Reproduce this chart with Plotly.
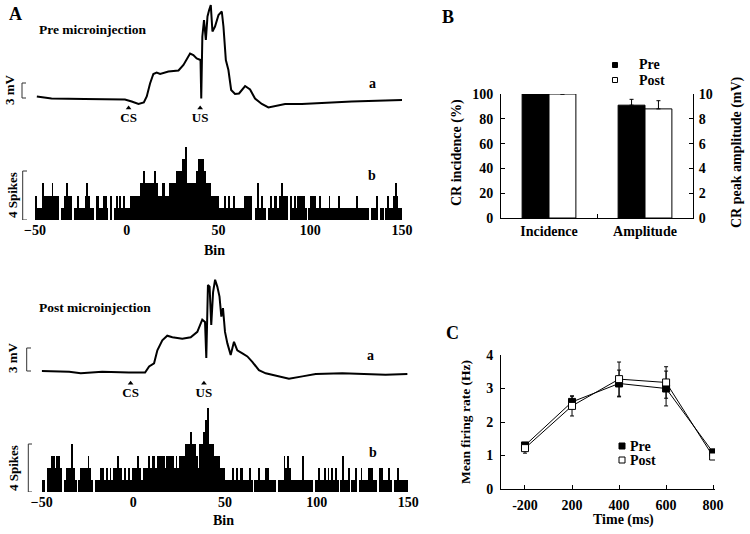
import plotly.graph_objects as go

W, H = 750, 534
FONT = "Liberation Serif"

# ---------------- data ----------------
hist_bins = list(range(-50, 150))
hist_ticks = [-50, 0, 50, 100, 150]

pre_spike_counts = [
    2, 1, 1, 1, 3, 2, 2, 2, 2, 3,
    2, 2, 2, 0, 1, 1, 2, 3, 2, 2,
    0, 1, 1, 2, 1, 1, 1, 2, 3, 2,
    1, 1, 0, 2, 2, 1, 1, 2, 2, 1,
    0, 2, 0, 1, 2, 1, 2, 1, 2, 1,
    1, 1, 2, 2, 2, 2, 2, 3, 3, 4,
    3, 3, 3, 3, 3, 4, 3, 2, 2, 3,
    3, 2, 2, 3, 3, 3, 3, 4, 4, 4,
    5, 5, 6, 3, 3, 3, 3, 3, 4, 5,
    5, 5, 4, 3, 3, 3, 2, 2, 2, 2,
    1, 1, 1, 2, 1, 2, 1, 1, 2, 1,
    1, 1, 1, 1, 2, 2, 2, 2, 0, 0,
    1, 3, 1, 2, 1, 1, 0, 1, 2, 1,
    2, 2, 1, 2, 3, 2, 2, 2, 0, 2,
    1, 2, 1, 2, 2, 2, 2, 1, 0, 1,
    2, 2, 2, 1, 1, 2, 1, 1, 1, 1,
    2, 1, 1, 1, 1, 2, 1, 1, 1, 1,
    1, 1, 1, 1, 1, 2, 1, 1, 1, 1,
    1, 1, 0, 1, 1, 1, 2, 0, 1, 1,
    0, 1, 2, 1, 1, 2, 3, 2, 1, 1,
]

post_spike_counts = [
    1, 1, 0, 2, 2, 3, 3, 2, 3, 3,
    2, 0, 1, 2, 2, 2, 4, 2, 1, 0,
    1, 2, 2, 2, 2, 3, 2, 1, 0, 1,
    1, 1, 2, 2, 1, 2, 1, 2, 1, 2,
    2, 3, 2, 2, 1, 2, 1, 2, 1, 2,
    2, 2, 3, 2, 1, 2, 2, 2, 3, 2,
    3, 3, 2, 3, 3, 3, 3, 2, 3, 3,
    3, 3, 2, 3, 2, 3, 3, 3, 4, 4,
    4, 5, 4, 4, 3, 2, 4, 4, 5, 6,
    7, 4, 4, 4, 3, 3, 3, 2, 2, 2,
    1, 1, 1, 1, 2, 1, 2, 1, 2, 2,
    1, 1, 1, 2, 1, 0, 1, 1, 2, 1,
    1, 1, 2, 2, 1, 1, 1, 1, 0, 1,
    1, 1, 3, 2, 3, 2, 1, 1, 1, 1,
    1, 1, 3, 1, 1, 1, 1, 1, 0, 1,
    1, 2, 1, 1, 2, 1, 2, 1, 2, 1,
    2, 1, 0, 1, 3, 1, 1, 2, 0, 1,
    1, 2, 0, 1, 2, 1, 1, 1, 2, 2,
    2, 1, 1, 0, 2, 2, 1, 1, 1, 2,
    1, 0, 1, 1, 2, 1, 1, 1, 1, 1,
]

pre_trace_bin = [-49, -41, -23, -1, 2.7, 6.4, 9.3, 10.9, 12.7, 14.5, 16.3, 18.2,
                 22.7, 26.3, 28.2, 30.9, 34.5, 36.3, 38.1, 40.2, 40.6, 41.2, 42.1,
                 43.1, 44.0, 44.9, 45.8, 46.7, 48.1, 50.0, 51.8, 52.7, 54.0, 55.4,
                 56.9, 59.0, 61.2, 64.5, 67.2, 69.9, 73.6, 77.2, 80.8, 86.3, 95.4,
                 108, 122.6, 140.8, 150]
pre_trace_mv = [0.3, -0.1, -0.2, -0.3, -0.7, -1.2, -0.9, 0.3, 2.9, 4.8, 5.1, 4.8,
                5.3, 5.5, 5.5, 6.6, 8.9, 8.6, 7.9, 7.6, -0.1, 12.3, 15.6,
                11.6, 16.3, 17.6, 18.6, 13.3, 14.3, 16.6, 17.3, 14.3, 7.6, 5.6,
                1.6, 0.8, 0.9, 2.4, 1.7, -0.1, -1.2, -1.9, -1.6, -1.2, -1.2,
                -0.9, -0.7, -0.5, -0.4]

post_trace_bin = [-50, -35, -28.7, -17, -2.4, 6.4, 8.6, 11.3, 13.1, 15.8, 18.5, 21.3,
                  26.7, 31.3, 34.9, 37.6, 39.1, 39.8, 40.7, 41.6, 42.5, 43.5, 44.6,
                  45.8, 47.0, 48.0, 48.9, 50.0, 51.3, 53.1, 54.9, 56.7, 59.5, 62.2,
                  64.9, 68.5, 72.2, 77.6, 84.9, 92.2, 99.5, 114, 128.6, 137.6, 149.5]
post_trace_mv = [0, -0.1, -0.3, -0.1, -0.2, -0.2, 0.6, 1.0, 2.7, 4.0, 4.6, 4.4,
                 4.2, 4.4, 5.1, 6.7, 6.4, 1.7, 11.2, 11.0, 6.0, 10.3, 11.9,
                 11.0, 9.7, 7.1, 8.2, 5.1, 3.6, 2.1, 3.8, 2.7, 2.3, 1.9,
                 1.2, 0.1, -0.3, -0.6, -1.0, -0.7, -0.4, -0.3, -0.4, -0.5, -0.4]

event_labels = ["CS", "US"]
pre_event_bins = [1, 40]
post_event_bins = [-1.5, 38.5]

mv_scale = 3
spike_scale = 4

b_groups = ["Incidence", "Amplitude"]
b_pre = [100, 9.1]
b_post = [100, 8.8]
b_pre_err = [0, 0.47]
b_post_err = [0, 0.66]

c_times = ["-200", "200", "400", "600", "800"]
c_pre = [1.3, 2.6, 3.15, 3.0, 1.09]
c_pre_err = [0.08, 0.17, 0.4, 0.52, 0.1]
c_post = [1.22, 2.48, 3.28, 3.18, 0.97]
c_post_err = [0.15, 0.3, 0.51, 0.47, 0.08]

series_names = ["Pre", "Post"]
series_fills = ["black", "white"]


# ---------------- helpers ----------------
def xd(a, b):
    return [a / W, b / W]


def yd(top, bot):
    return [1 - bot / H, 1 - top / H]


def xp(x):
    return x / W


def yp(y):
    return 1 - y / H


def bfont(size=13):
    return dict(family=FONT, size=size, color="black", weight="bold")


def ann(text, x, y, size=13, angle=0, xanchor="center"):
    return dict(text=text, x=xp(x), y=yp(y), xref="paper", yref="paper",
                showarrow=False, xanchor=xanchor, yanchor="middle",
                textangle=angle, font=bfont(size), borderpad=0)


def bracket(x0, x1, yref, v0, v1):
    return dict(type="path", xref="paper", yref=yref,
                path=f"M {xp(x1)},{v1} L {xp(x0)},{v1} L {xp(x0)},{v0} L {xp(x1)},{v0}",
                line=dict(color="#333", width=1))


def key_square(cx, cy, half, fill):
    return dict(type="rect", xref="paper", yref="paper",
                x0=xp(cx - half), x1=xp(cx + half), y0=yp(cy + half), y1=yp(cy - half),
                fillcolor=fill, line=dict(color="black", width=1))


fig = go.Figure()

# ---------------- Panel A ----------------
hist_x = [b + 0.5 for b in hist_bins]

fig.add_trace(go.Scatter(x=pre_trace_bin, y=pre_trace_mv, mode="lines",
                         line=dict(color="black", width=2), xaxis="x", yaxis="y",
                         showlegend=False, hoverinfo="skip"))
fig.add_trace(go.Scatter(x=pre_event_bins, y=[-2.0] * len(pre_event_bins),
                         mode="markers+text", text=event_labels,
                         textposition="bottom center", textfont=bfont(13),
                         marker=dict(symbol="triangle-up", size=5, color="black"),
                         cliponaxis=False, xaxis="x", yaxis="y", showlegend=False))
fig.add_trace(go.Bar(x=hist_x, y=pre_spike_counts, width=1,
                     marker=dict(color="black", line=dict(width=0)),
                     xaxis="x2", yaxis="y2", showlegend=False))

fig.add_trace(go.Scatter(x=post_trace_bin, y=post_trace_mv, mode="lines",
                         line=dict(color="black", width=2), xaxis="x3", yaxis="y3",
                         showlegend=False, hoverinfo="skip"))
fig.add_trace(go.Scatter(x=post_event_bins, y=[-1.6] * len(post_event_bins),
                         mode="markers+text", text=event_labels,
                         textposition="bottom center", textfont=bfont(13),
                         marker=dict(symbol="triangle-up", size=5, color="black"),
                         cliponaxis=False, xaxis="x3", yaxis="y3", showlegend=False))
fig.add_trace(go.Bar(x=hist_x, y=post_spike_counts, width=1,
                     marker=dict(color="black", line=dict(width=0)),
                     xaxis="x4", yaxis="y4", showlegend=False))

# ---------------- Panel B ----------------
for i, g in enumerate(b_groups):
    ya = "y5" if i == 0 else "y6"
    fig.add_trace(go.Bar(x=[g], y=[b_pre[i]], width=[0.28], offset=[-0.28],
                         marker=dict(color="black", line=dict(color="black", width=1)),
                         error_y=dict(type="data", array=[b_pre_err[i]], arrayminus=[0],
                                      symmetric=False, color="black", thickness=1, width=2),
                         xaxis="x5", yaxis=ya, showlegend=False))
    fig.add_trace(go.Bar(x=[g], y=[b_post[i]], width=[0.28], offset=[0.0],
                         marker=dict(color="white", line=dict(color="black", width=1)),
                         error_y=dict(type="data", array=[b_post_err[i]], arrayminus=[0],
                                      symmetric=False, color="black", thickness=1, width=2),
                         xaxis="x5", yaxis=ya, showlegend=False))

# ---------------- Panel C ----------------
for vals, errs, fill in [(c_pre, c_pre_err, series_fills[0]), (c_post, c_post_err, series_fills[1])]:
    fig.add_trace(go.Scatter(x=c_times, y=vals, mode="lines+markers",
                             line=dict(color="black", width=1),
                             marker=dict(symbol="square", size=7, color=fill,
                                         line=dict(color="black", width=1)),
                             error_y=dict(type="data", array=errs, color="black",
                                          thickness=1, width=2),
                             xaxis="x6", yaxis="y7", showlegend=False))

# ---------------- layout ----------------
hidden = dict(visible=False, fixedrange=True, automargin=False)
hist_xaxis = dict(range=[-50, 150], showline=False, ticks="", showgrid=False,
                  zeroline=False, tickvals=hist_ticks, tickfont=bfont(14),
                  automargin=False, fixedrange=True)
frame = dict(showline=True, linecolor="black", linewidth=1, ticks="inside",
             ticklen=4, tickcolor="black", showgrid=False, zeroline=False,
             tickfont=bfont(14), automargin=False, fixedrange=True)

fig.update_layout(
    template="none",
    width=W, height=H, autosize=False,
    margin=dict(l=0, r=0, t=0, b=0, pad=0, autoexpand=False),
    paper_bgcolor="white", plot_bgcolor="white",
    barmode="overlay", bargap=0, showlegend=False, hovermode=False,
    xaxis=dict(domain=xd(35, 402), range=[-50, 150], anchor="y", **hidden),
    yaxis=dict(domain=yd(0, 110), range=[(98 - 110) / 5, 98 / 5], anchor="x", **hidden),
    xaxis2=dict(domain=xd(35, 402), anchor="y2", **hist_xaxis),
    yaxis2=dict(domain=yd(130, 220), range=[0, 90 / 12.25], anchor="x2", **hidden),
    xaxis3=dict(domain=xd(41.7, 408.3), range=[-50, 150], anchor="y3", **hidden),
    yaxis3=dict(domain=yd(270, 390), range=[(371 - 390) / 7.67, (371 - 270) / 7.67],
                anchor="x3", **hidden),
    xaxis4=dict(domain=xd(41.7, 408.3), anchor="y4", **hist_xaxis),
    yaxis4=dict(domain=yd(400, 492), range=[0, 92 / 12.0], anchor="x4", **hidden),
    xaxis5=dict(domain=xd(501, 693), anchor="y5", type="category",
                categoryorder="array", categoryarray=b_groups, range=[-0.5, 1.5],
                tickson="boundaries", **frame),
    yaxis5=dict(domain=yd(94, 218), anchor="x5", range=[0, 100], dtick=20,
                ticklabelstandoff=4, **frame),
    yaxis6=dict(domain=yd(94, 218), anchor="x5", overlaying="y5", side="right",
                range=[0, 10], dtick=2, ticklabelstandoff=2, **frame),
    xaxis6=dict(domain=xd(501, 715), anchor="y7", type="category",
                categoryorder="array", categoryarray=c_times, range=[-0.51, 4.04],
                ticklabelstandoff=3, **frame),
    yaxis7=dict(domain=yd(355, 489), anchor="x6", range=[0, 4], dtick=1,
                ticklabelstandoff=4, **frame),
)

shapes = [
    bracket(22, 26, "y", 0, mv_scale),
    bracket(22.7, 27, "y2", 0, spike_scale),
    bracket(26.7, 31, "y3", 0, mv_scale),
    bracket(28.3, 32, "y4", 0, spike_scale),
]
b_key_y = [65, 80]
c_key_y = [446, 460]
for fill, yb, yc in zip(series_fills, b_key_y, c_key_y):
    shapes.append(key_square(615, yb, 2.5, fill))
    shapes.append(key_square(622, yc, 3, fill))
fig.update_layout(shapes=shapes)

annotations = [
    ann("A", 15, 14, 18),
    ann("B", 448, 17, 18),
    ann("C", 452, 333, 18),
    ann("Pre microinjection", 38, 29, 13.5, xanchor="left"),
    ann("Post microinjection", 38, 307, 13.5, xanchor="left"),
    ann("a", 372, 84, 14),
    ann("a", 370, 355, 14),
    ann("b", 372, 175, 14),
    ann("b", 373, 452, 14),
    ann("3 mV", 10, 90, 13, angle=-90),
    ann("3 mV", 12, 358, 13, angle=-90),
    ann("4 Spikes", 12, 195, 13, angle=-90),
    ann("4 Spikes", 13, 468, 13, angle=-90),
    ann("Bin", 214, 250, 14),
    ann("Bin", 223, 520, 14),
    ann("CR incidence (%)", 457, 152, 14, angle=-90),
    ann("CR peak amplitude (mV)", 737, 152, 14, angle=-90),
    ann("Mean firing rate (Hz)", 465, 422, 13.5, angle=-90),
    ann("Time (ms)", 623, 520, 14),
]
for name, yb, yc in zip(series_names, b_key_y, c_key_y):
    annotations.append(ann(name, 638, yb, 14, xanchor="left"))
    annotations.append(ann(name, 629, yc, 14, xanchor="left"))
fig.update_layout(annotations=annotations)

fig.write_html("out.html",
               config={"displayModeBar": False, "staticPlot": True},
               post_script="document.body.style.margin='0px';document.body.style.overflow='hidden';")
